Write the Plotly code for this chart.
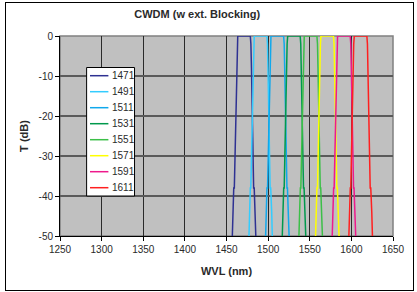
import plotly.graph_objects as go

# Channel names (legend) and colours
channels = ["1471", "1491", "1511", "1531", "1551", "1571", "1591", "1611"]
colors = ["#2e3192", "#33ccff", "#10a8ec", "#00994c", "#3cbf48", "#ffff00", "#ee1a8c", "#ff2020"]

# Transmission levels (dB) along each filter trace: up the left edge, across the top, down the right edge
t_levels = [-50, -44, -44, -38, -38, -31, -31, -24, -16, -8, -2, 0,
            0, -2, -8, -16, -24, -31, -31, -38, -38, -44, -44, -50]

# Wavelengths (nm) for each channel, matching t_levels
wvl_1471 = [1457.0, 1457.5, 1458.2, 1458.7, 1459.4, 1460.0, 1460.6, 1461.0, 1461.5, 1462.2, 1462.8, 1463.5,
            1478.6, 1479.3, 1480.0, 1480.6, 1481.0, 1481.5, 1482.1, 1482.6, 1483.3, 1483.8, 1484.5, 1485.2]
wvl_1491 = [1477.0, 1477.4, 1478.1, 1478.6, 1479.2, 1479.8, 1480.5, 1481.0, 1481.4, 1482.0, 1482.6, 1483.3,
            1498.5, 1499.2, 1499.8, 1500.3, 1500.8, 1501.2, 1501.9, 1502.4, 1503.1, 1503.6, 1504.3, 1505.0]
wvl_1511 = [1497.0, 1497.5, 1498.1, 1498.6, 1499.3, 1499.9, 1500.5, 1501.0, 1501.5, 1502.1, 1502.7, 1503.4,
            1518.6, 1519.3, 1519.9, 1520.4, 1520.9, 1521.4, 1522.0, 1522.6, 1523.2, 1523.8, 1524.5, 1525.2]
wvl_1531 = [1517.0, 1517.4, 1518.1, 1518.7, 1519.3, 1519.9, 1520.5, 1521.0, 1521.5, 1522.1, 1522.8, 1523.5,
            1538.5, 1539.2, 1539.8, 1540.4, 1540.9, 1541.3, 1542.0, 1542.5, 1543.2, 1543.8, 1544.5, 1545.2]
wvl_1551 = [1537.0, 1537.5, 1538.2, 1538.7, 1539.3, 1539.9, 1540.5, 1541.0, 1541.5, 1542.1, 1542.7, 1543.4,
            1558.6, 1559.3, 1559.9, 1560.4, 1560.9, 1561.4, 1562.0, 1562.6, 1563.2, 1563.8, 1564.5, 1565.2]
wvl_1571 = [1557.0, 1557.4, 1558.1, 1558.6, 1559.3, 1559.9, 1560.5, 1561.0, 1561.5, 1562.1, 1562.8, 1563.5,
            1578.5, 1579.2, 1579.8, 1580.4, 1580.9, 1581.3, 1582.0, 1582.5, 1583.2, 1583.8, 1584.5, 1585.2]
wvl_1591 = [1577.0, 1577.5, 1578.1, 1578.7, 1579.3, 1579.9, 1580.5, 1581.0, 1581.5, 1582.1, 1582.7, 1583.4,
            1598.6, 1599.3, 1599.9, 1600.4, 1600.9, 1601.4, 1602.0, 1602.6, 1603.2, 1603.8, 1604.5, 1605.2]
wvl_1611 = [1597.0, 1597.4, 1598.1, 1598.7, 1599.3, 1599.9, 1600.5, 1601.0, 1601.5, 1602.1, 1602.8, 1603.5,
            1618.6, 1619.3, 1619.9, 1620.4, 1620.9, 1621.4, 1622.0, 1622.6, 1623.3, 1623.8, 1624.5, 1625.3]

wavelengths = [wvl_1471, wvl_1491, wvl_1511, wvl_1531, wvl_1551, wvl_1571, wvl_1591, wvl_1611]

x_ticks = [1250, 1300, 1350, 1400, 1450, 1500, 1550, 1600, 1650]
y_ticks = [0, -10, -20, -30, -40, -50]

W, H = 417, 292
ML, MR, MT, MB = 60, 13, 36, 56
PW, PH = W - ML - MR, H - MT - MB


def px_x(px):
    return (px - ML) / PW


def px_y(py):
    return (H - MB - py) / PH


fig = go.Figure()
for name, col, wv in zip(channels, colors, wavelengths):
    fig.add_trace(go.Scatter(x=wv, y=t_levels, mode="lines", name=name,
                             line=dict(color=col, width=1.5), showlegend=False,
                             hoverinfo="skip"))

font_family = "Liberation Sans, Arial, sans-serif"
text_col = "#2a2a2a"

shapes = [
    dict(type="rect", xref="paper", yref="paper", x0=0, x1=1, y0=0, y1=1,
         line=dict(color="#808080", width=1.5), layer="below"),
    # legend box
    dict(type="rect", xref="paper", yref="paper",
         x0=px_x(87.5), x1=px_x(137), y0=px_y(196), y1=px_y(67.5),
         line=dict(color="black", width=1), fillcolor="white", layer="above"),
]
annotations = []
for i, (name, col) in enumerate(zip(channels, colors)):
    yy = 75.7 + 16 * i
    shapes.append(dict(type="line", xref="paper", yref="paper",
                       x0=px_x(91), x1=px_x(110), y0=px_y(yy), y1=px_y(yy),
                       line=dict(color=col, width=1.5), layer="above"))
    annotations.append(dict(text=name, xref="paper", yref="paper",
                            x=px_x(111.5), y=px_y(yy), xanchor="left", yanchor="middle",
                            showarrow=False, font=dict(size=10, color=text_col)))

fig.update_layout(
    width=W, height=H,
    margin=dict(l=ML, r=MR, t=MT, b=MB),
    paper_bgcolor="white",
    plot_bgcolor="#c0c0c0",
    font=dict(family=font_family, size=10, color=text_col),
    title=dict(text="<b>CWDM (w ext. Blocking)</b>", x=0.473, xanchor="center",
               y=0.95, yanchor="middle", xref="container", yref="container",
               font=dict(size=11, color=text_col)),
    showlegend=False,
    hovermode=False,
    xaxis=dict(range=[1250, 1650], tickvals=x_ticks, ticktext=[str(v) for v in x_ticks],
               showgrid=True, gridcolor="#2a2a2a", gridwidth=1,
               showline=True, linecolor="black", linewidth=1,
               ticks="outside", ticklen=4, tickcolor="black",
               zeroline=False,
               title=dict(text="<b>WVL (nm)</b>", font=dict(size=11, color=text_col), standoff=13)),
    yaxis=dict(range=[-50, 0], tickvals=y_ticks, ticktext=[str(v) for v in y_ticks],
               showgrid=True, gridcolor="#5a5a5a", gridwidth=1.5,
               showline=True, linecolor="black", linewidth=1,
               ticks="outside", ticklen=4, tickcolor="black",
               zeroline=False,
               title=dict(text="<b>T (dB)</b>", font=dict(size=11, color=text_col), standoff=7)),
    shapes=shapes,
    annotations=annotations,
)

post = (
    "document.body.style.margin='0';document.body.style.overflow='hidden';"
    "var fr=document.createElement('div');"
    "fr.style.cssText='position:absolute;left:5px;top:2px;width:407px;height:287px;"
    "border:1px solid black;pointer-events:none;z-index:10;';"
    "document.body.appendChild(fr);"
)
fig.write_html("out.html", config={"displayModeBar": False}, post_script=post)
